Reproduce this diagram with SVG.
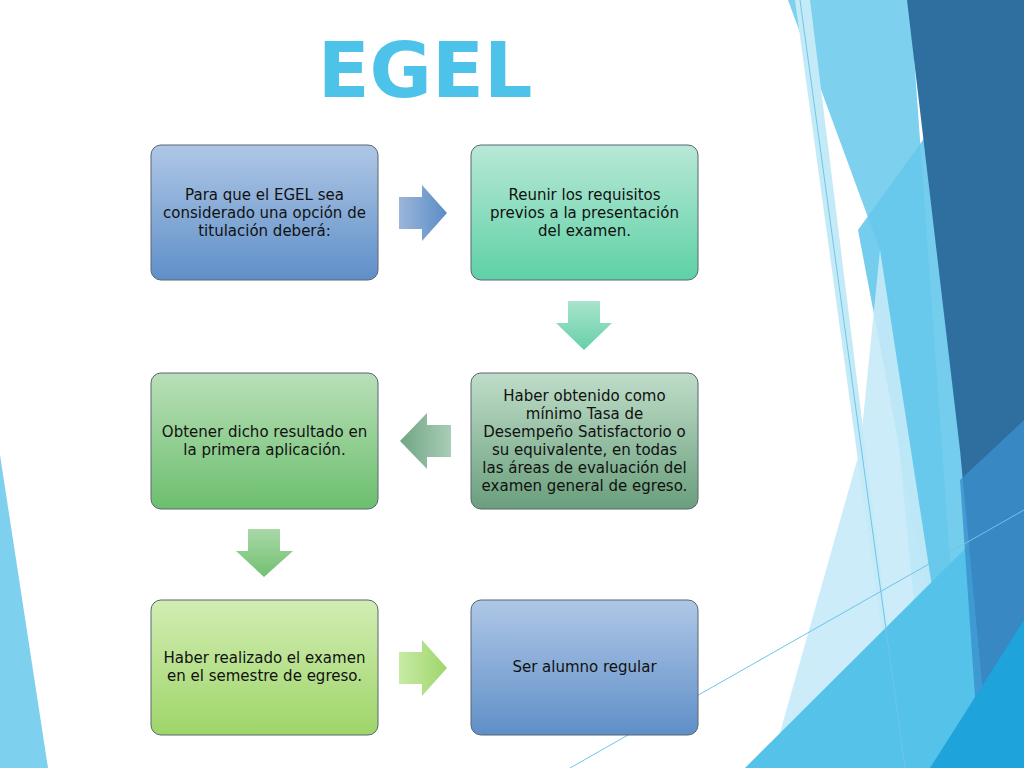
<svg xmlns="http://www.w3.org/2000/svg" width="1024" height="768" viewBox="0 0 1024 768">
<defs>
<linearGradient id="gBlue" x1="0" y1="0" x2="0" y2="1"><stop offset="0" stop-color="#AFC7E6"/><stop offset="1" stop-color="#5F8FC8"/></linearGradient>
<linearGradient id="gTeal" x1="0" y1="0" x2="0" y2="1"><stop offset="0" stop-color="#B8E8D6"/><stop offset="1" stop-color="#5ED1A6"/></linearGradient>
<linearGradient id="gDkGreen" x1="0" y1="0" x2="0" y2="1"><stop offset="0" stop-color="#BFDDC9"/><stop offset="1" stop-color="#6A9F7C"/></linearGradient>
<linearGradient id="gGreen" x1="0" y1="0" x2="0" y2="1"><stop offset="0" stop-color="#B9DFB8"/><stop offset="1" stop-color="#6CBF6E"/></linearGradient>
<linearGradient id="gLime" x1="0" y1="0" x2="0" y2="1"><stop offset="0" stop-color="#D2EDB3"/><stop offset="1" stop-color="#9ED569"/></linearGradient>
<linearGradient id="aBlue" x1="0" y1="0" x2="1" y2="0"><stop offset="0" stop-color="#9BB6DA"/><stop offset="1" stop-color="#5B8CC6"/></linearGradient>
<linearGradient id="aTeal" x1="0" y1="0" x2="0" y2="1"><stop offset="0" stop-color="#A8E4CC"/><stop offset="1" stop-color="#66D0A8"/></linearGradient>
<linearGradient id="aDk" x1="1" y1="0" x2="0" y2="0"><stop offset="0" stop-color="#A9CDB6"/><stop offset="1" stop-color="#70A585"/></linearGradient>
<linearGradient id="aGreen" x1="0" y1="0" x2="0" y2="1"><stop offset="0" stop-color="#A8D8A8"/><stop offset="1" stop-color="#72C072"/></linearGradient>
<linearGradient id="aLime" x1="0" y1="0" x2="1" y2="0"><stop offset="0" stop-color="#C8EAA6"/><stop offset="1" stop-color="#9ED66A"/></linearGradient>
</defs>
<style>
.box{stroke:#5A6470;stroke-width:1}
.t{font-family:"DejaVu Sans",sans-serif;font-size:15px;fill:#111;text-anchor:middle}
</style>
<rect width="1024" height="768" fill="#FFFFFF"/>
<g id="background">
<polygon points="0,455 48,768 0,768" fill="#7DD0EE"/>
<polygon points="788,0 910,0 965,768 930,768 880,250" fill="#7DD0EE"/>
<polygon points="858,230 1024,0 1024,768 960,768" fill="#66C8EC" opacity="0.9"/>
<polygon points="795,0 810,0 905,768 900,768" fill="#C5EAF7"/>
<polygon points="880,250 960,768 770,768 860,450" fill="#C5EAF7" opacity="0.9"/>
<polygon points="745,768 1024,490 1024,768" fill="#55C2EA"/>
<polygon points="907,0 1024,0 1024,768 990,768 960,450" fill="#2F6FA0"/>
<polygon points="960,480 1024,420 1024,768 980,768" fill="#3A8FCC" opacity="0.8"/>
<polygon points="930,768 1024,620 1024,768" fill="#1FA3DB"/>
<line x1="800" y1="0" x2="905" y2="768" stroke="#6CC6EA" stroke-width="1"/>
<line x1="570" y1="768" x2="1024" y2="510" stroke="#6CC6EA" stroke-width="1"/>
</g>
<text id="title" x="425" y="97" font-family="'DejaVu Sans',sans-serif" font-weight="bold" font-size="76" fill="#4DC3EA" text-anchor="middle">EGEL</text>
<g id="connectors">
<polygon points="399,197 422,197 422,185 447,213 422,241 422,229 399,229" fill="url(#aBlue)"/>
<polygon points="568,301 600,301 600,323 612,323 584,350 556,323 568,323" fill="url(#aTeal)"/>
<polygon points="451,425 427,425 427,413 400,441 427,469 427,457 451,457" fill="url(#aDk)"/>
<polygon points="248,529 280,529 280,551 293,551 264,577 236,551 248,551" fill="url(#aGreen)"/>
<polygon points="399,652 422,652 422,640 447,668 422,696 422,684 399,684" fill="url(#aLime)"/>
</g>
<g id="n1"><rect class="box" x="151" y="145" width="227" height="135" rx="10" fill="url(#gBlue)"/>
<text class="t" x="264.5" y="200">Para que el EGEL sea</text><text class="t" x="264.5" y="218">considerado una opción de</text><text class="t" x="264.5" y="236">titulación deberá:</text></g>
<g id="n2"><rect class="box" x="471" y="145" width="227" height="135" rx="10" fill="url(#gTeal)"/>
<text class="t" x="584.5" y="200">Reunir los requisitos</text><text class="t" x="584.5" y="218">previos a la presentación</text><text class="t" x="584.5" y="236">del examen.</text></g>
<g id="n3"><rect class="box" x="471" y="373" width="227" height="136" rx="10" fill="url(#gDkGreen)"/>
<text class="t" x="584.5" y="401">Haber obtenido como</text><text class="t" x="584.5" y="419">mínimo Tasa de</text><text class="t" x="584.5" y="437">Desempeño Satisfactorio o</text><text class="t" x="584.5" y="455">su equivalente, en todas</text><text class="t" x="584.5" y="473">las áreas de evaluación del</text><text class="t" x="584.5" y="491">examen general de egreso.</text></g>
<g id="n4"><rect class="box" x="151" y="373" width="227" height="136" rx="10" fill="url(#gGreen)"/>
<text class="t" x="264.5" y="437">Obtener dicho resultado en</text><text class="t" x="264.5" y="455">la primera aplicación.</text></g>
<g id="n5"><rect class="box" x="151" y="600" width="227" height="135" rx="10" fill="url(#gLime)"/>
<text class="t" x="264.5" y="663">Haber realizado el examen</text><text class="t" x="264.5" y="681">en el semestre de egreso.</text></g>
<g id="n6"><rect class="box" x="471" y="600" width="227" height="135" rx="10" fill="url(#gBlue)"/>
<text class="t" x="584.5" y="672">Ser alumno regular</text></g>
</svg>
